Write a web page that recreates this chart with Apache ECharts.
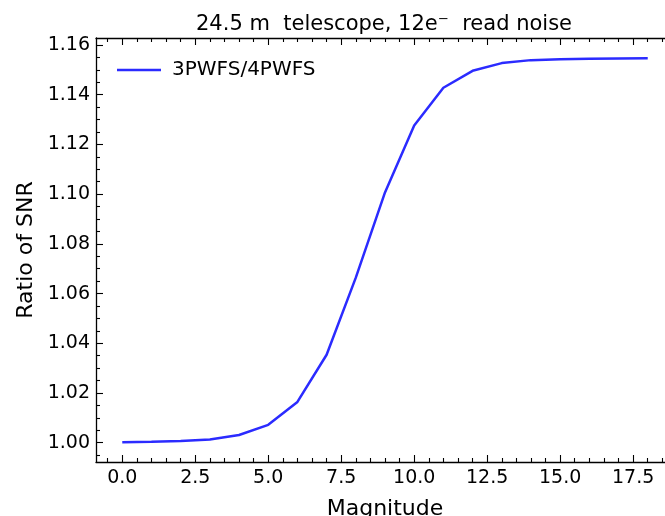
<!DOCTYPE html>
<html>
<head>
<meta charset="utf-8">
<script src="https://cdn.jsdelivr.net/npm/echarts@6/dist/echarts.min.js"></script>
<style>html,body{margin:0;padding:0;background:#fff}#c{width:665px;height:516px}</style>
</head>
<body>
<div id="c"></div>
<script>
const magnitudes = [0,1,2,3,4,5,6,7,8,9,10,11,12,13,14,15,16,17,18];
const snrRatio = [1.0002,1.0004,1.0007,1.0013,1.0031,1.0072,1.0164,1.0354,1.0664,1.1007,1.1276,1.1428,1.1496,1.1527,1.1539,1.1543,1.1545,1.1546,1.1547];
const seriesName = '3PWFS/4PWFS';
const xMajorTicks = [0,2.5,5,7.5,10,12.5,15,17.5];
const yMajorTicks = [1.00,1.02,1.04,1.06,1.08,1.10,1.12,1.14,1.16];
const titleText = '24.5 m  telescope, 12e\u207B  read noise';
const xName = 'Magnitude';
const yName = 'Ratio of SNR';

const xMin = -0.9, xMax = 18.9, yMin = 0.99225, yMax = 1.1628;
const xMinor = [], yMinor = [];
for (let i = -1; i <= 37; i++) { const v = i * 0.5; if (v > xMin && v < xMax && (i % 5) !== 0) xMinor.push(v); }
for (let i = 0; i <= 40; i++) { const v = +(0.99 + i * 0.005).toFixed(3); if (v > yMin && v < yMax && (i % 4) !== 2) yMinor.push(v); }

const font = 'DejaVu Sans';
const lineCol = '#000';
function xAx(pos, ticks, len, labels, line) {
  return {
    type: 'value', position: pos, min: xMin, max: xMax,
    splitLine: {show: false},
    axisLine: {show: line, onZero: false, lineStyle: {color: lineCol, width: 1.3}},
    axisTick: {show: true, inside: true, length: len, customValues: ticks, lineStyle: {color: lineCol, width: 1.1}},
    axisLabel: labels ? {show: true, customValues: ticks, formatter: v => v.toFixed(1), fontSize: 19, fontFamily: font, color: '#000', margin: 7} : {show: false},
    name: labels ? xName : '', nameLocation: 'middle', nameGap: 36,
    nameTextStyle: {fontSize: 22, fontFamily: font, color: '#000'}
  };
}
function yAx(pos, ticks, len, labels, line) {
  return {
    type: 'value', position: pos, min: yMin, max: yMax,
    splitLine: {show: false},
    axisLine: {show: line, onZero: false, lineStyle: {color: lineCol, width: 1.3}},
    axisTick: {show: true, inside: true, length: len, customValues: ticks, lineStyle: {color: lineCol, width: 1.1}},
    axisLabel: labels ? {show: true, customValues: ticks, formatter: v => v.toFixed(2), fontSize: 19, fontFamily: font, color: '#000', margin: 6} : {show: false},
    name: labels ? yName : '', nameLocation: 'middle', nameGap: 59,
    nameTextStyle: {fontSize: 22, fontFamily: font, color: '#000'}
  };
}

const chart = echarts.init(document.getElementById('c'), null, {renderer: 'canvas'});
chart.setOption({
  animation: false,
  backgroundColor: '#fff',
  title: {text: titleText, left: 379, textAlign: 'center', top: 9,
    textStyle: {fontSize: 21, fontWeight: 'normal', fontFamily: font, color: '#000'}},
  legend: {
    data: [{name: seriesName, icon: 'rect'}], left: 112, top: 55,
    itemWidth: 44, itemHeight: 2.5,
    textStyle: {fontSize: 20, fontFamily: font, color: '#000', padding: [0,0,0,6]}
  },
  grid: {left: 96, top: 38, width: 578, height: 424, containLabel: false, outerBoundsMode: 'none'},
  xAxis: [
    xAx('bottom', xMajorTicks, 7, true, true),
    xAx('bottom', xMinor, 4, false, false),
    xAx('top', xMajorTicks, 7, false, true),
    xAx('top', xMinor, 4, false, false)
  ],
  yAxis: [
    yAx('left', yMajorTicks, 7, true, true),
    yAx('left', yMinor, 4, false, false),
    yAx('right', yMajorTicks, 7, false, true),
    yAx('right', yMinor, 4, false, false)
  ],
  series: [{
    name: seriesName, type: 'line', xAxisIndex: 0, yAxisIndex: 0,
    data: magnitudes.map((m, i) => [m, snrRatio[i]]),
    showSymbol: false, symbol: 'none',
    lineStyle: {color: '#2b2bff', width: 2.5},
    itemStyle: {color: '#2b2bff'}
  }]
});
</script>
</body>
</html>
